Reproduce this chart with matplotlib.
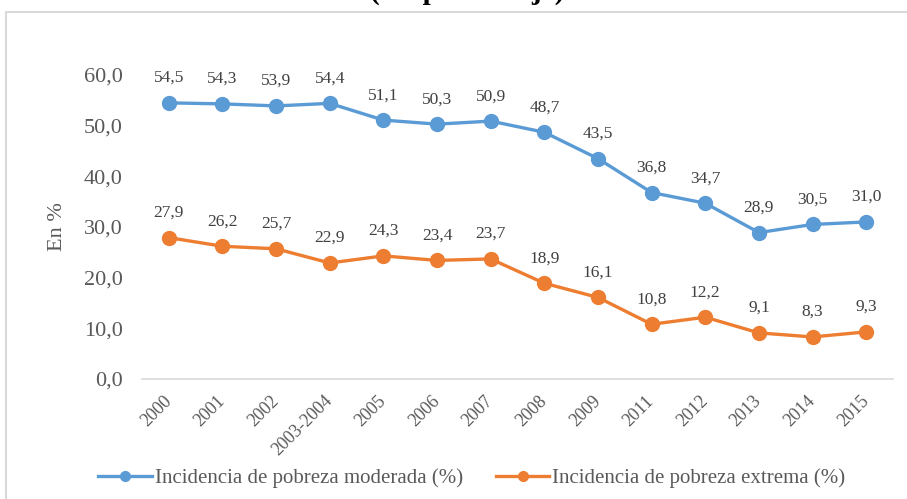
import matplotlib
matplotlib.use("Agg")
import matplotlib.pyplot as plt
from matplotlib.patches import Rectangle
from matplotlib.lines import Line2D

# Data
years = ["2000", "2001", "2002", "2003-2004", "2005", "2006", "2007",
         "2008", "2009", "2011", "2012", "2013", "2014", "2015"]
moderada = [54.5, 54.3, 53.9, 54.4, 51.1, 50.3, 50.9, 48.7, 43.5, 36.8, 34.7, 28.9, 30.5, 31.0]
extrema = [27.9, 26.2, 25.7, 22.9, 24.3, 23.4, 23.7, 18.9, 16.1, 10.8, 12.2, 9.1, 8.3, 9.3]
yticks = [0, 10, 20, 30, 40, 50, 60]

blue = "#5B9BD5"
orange = "#ED7D31"
grey = "#595959"

plt.rcParams['font.family'] = ['Liberation Serif', 'DejaVu Serif']

fig = plt.figure(figsize=(9.07, 4.99), dpi=100)
ax = fig.add_axes([142/907, 1 - 379/499, (893 - 142)/907, (379 - 75)/499])

x = list(range(len(years)))
ax.plot(x, moderada, color=blue, lw=2.4, marker="o", ms=10, clip_on=False)
ax.plot(x, extrema, color=orange, lw=2.4, marker="o", ms=10, clip_on=False)

# data labels
for serie in (moderada, extrema):
    for xi, v in zip(x, serie):
        ax.annotate(f"{v:.1f}".replace(".", ","), (xi, v), xytext=(0, 15),
                    textcoords="offset points", ha="center", va="baseline",
                    fontsize=12.5, color="#404040")

ax.set_xlim(-0.5, len(years) - 0.5)
ax.set_ylim(0, 60)
ax.set_yticks(yticks)
ax.set_yticklabels([f"{t:.1f}".replace(".", ",") for t in yticks], fontsize=16, color=grey)
ax.set_xticks(x)
ax.set_xticklabels(years, rotation=45, ha="right", va="center",
                   rotation_mode="anchor", fontsize=13, color=grey)
ax.tick_params(axis="y", length=0, pad=14)
ax.tick_params(axis="x", length=0, pad=14)
ax.set_ylabel("En %", fontsize=16, color=grey, labelpad=12)

for s in ("top", "right", "left"):
    ax.spines[s].set_visible(False)
ax.spines["bottom"].set_color("#D9D9D9")
ax.spines["bottom"].set_linewidth(1.2)

# cut-off title at top
fig.text(467/907, 1 + 1/499, "(En porcentaje)", ha="center", va="baseline",
         fontsize=21, fontweight="bold", color="black")

# light frame around the chart
fig.patches.append(Rectangle((6/907, -0.1), 1.2, (499 - 12)/499 + 0.1,
                             transform=fig.transFigure, fill=False,
                             edgecolor="#D9D9D9", lw=1.5))

handles = [Line2D([], [], color=blue, lw=2.4, marker="o", ms=7),
           Line2D([], [], color=orange, lw=2.4, marker="o", ms=7)]
labels = ["Incidencia de pobreza moderada (%)", "Incidencia de pobreza extrema (%)"]
fig.legend(handles, labels, loc="center", bbox_to_anchor=(472/907, 1 - 478/499), ncol=2,
           frameon=False, fontsize=15, handlelength=2.55, columnspacing=1.6,
           labelcolor=grey, handletextpad=0.15)

fig.savefig("out.png", dpi=100)
